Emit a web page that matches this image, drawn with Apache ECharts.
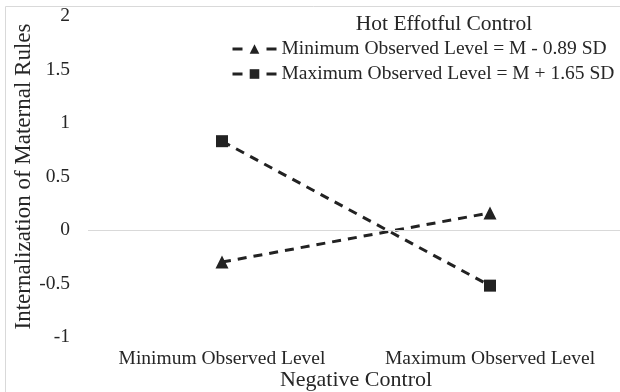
<!DOCTYPE html>
<html><head><meta charset="utf-8">
<script src="https://cdn.jsdelivr.net/npm/echarts@6/dist/echarts.min.js"></script>
<style>html,body{margin:0;padding:0;background:#fff}#c{width:620px;height:392px}</style>
</head><body><div id="c"></div>
<script>
var categories = ['Minimum Observed Level', 'Maximum Observed Level'];
var minSeries = [-0.30, 0.16];
var maxSeries = [0.83, -0.52];
var seriesNames = ['Minimum Observed Level = M - 0.89 SD', 'Maximum Observed Level = M + 1.65 SD'];
var yTicks = [-1, -0.5, 0, 0.5, 1, 1.5, 2];

var font = 'Liberation Serif';
var txt = '#262626';
var chart = echarts.init(document.getElementById('c'));
chart.setOption({
  animation: false,
  graphic: [{type: 'rect', shape: {x: 5.5, y: 6.5, width: 800, height: 600}, style: {fill: 'none', stroke: '#d9d9d9', lineWidth: 1}, silent: true}],
  title: {text: 'Hot Effotful Control', left: 439, textAlign: 'center', top: 8,
    textStyle: {fontFamily: font, fontSize: 21.5, fontWeight: 'normal', color: txt}},
  legend: {orient: 'vertical', left: 226, top: 34, itemGap: 5, itemWidth: 44, itemHeight: 12,
    lineStyle: {type: [10, 24], width: 3},
    textStyle: {fontFamily: font, fontSize: 19.5, color: txt, padding: [0,0,0,0]},
    data: seriesNames},
  grid: {left: 88, right: -4, top: 16, bottom: 55, containLabel: false, outerBoundsMode: 'none'},
  xAxis: {type: 'category', data: categories, boundaryGap: true,
    name: 'Negative Control', nameLocation: 'middle', nameGap: 32, nameMoveOverlap: false,
    nameTextStyle: {fontFamily: font, fontSize: 22, color: txt},
    axisLine: {show: false}, axisTick: {show: false},
    axisLabel: {fontFamily: font, fontSize: 19.5, color: txt, margin: 12, interval: 0, hideOverlap: false}},
  yAxis: {type: 'value', min: -1, max: 2, interval: 0.5,
    name: 'Internalization of Maternal Rules', nameLocation: 'middle', nameGap: 53, nameMoveOverlap: false,
    nameTextStyle: {fontFamily: font, fontSize: 23, color: txt},
    axisLine: {show: false}, axisTick: {show: false}, splitLine: {show: false},
    axisLabel: {fontFamily: font, fontSize: 19.5, color: txt, margin: 18,
      formatter: function(v){ return yTicks.indexOf(v) >= 0 ? String(v) : ''; }}},
  series: [
    {name: seriesNames[0], type: 'line', data: minSeries, symbol: 'triangle', symbolSize: 13,
      itemStyle: {color: '#222'}, lineStyle: {color: '#222', width: 3, type: [9, 7]},
      markLine: {silent: true, symbol: 'none', label: {show: false},
        lineStyle: {color: '#d9d9d9', width: 1, type: 'solid'}, data: [{yAxis: 0}]}},
    {name: seriesNames[1], type: 'line', data: maxSeries, symbol: 'rect', symbolSize: 12,
      itemStyle: {color: '#222'}, lineStyle: {color: '#222', width: 3, type: [9, 7]}}
  ]
});
</script></body></html>
